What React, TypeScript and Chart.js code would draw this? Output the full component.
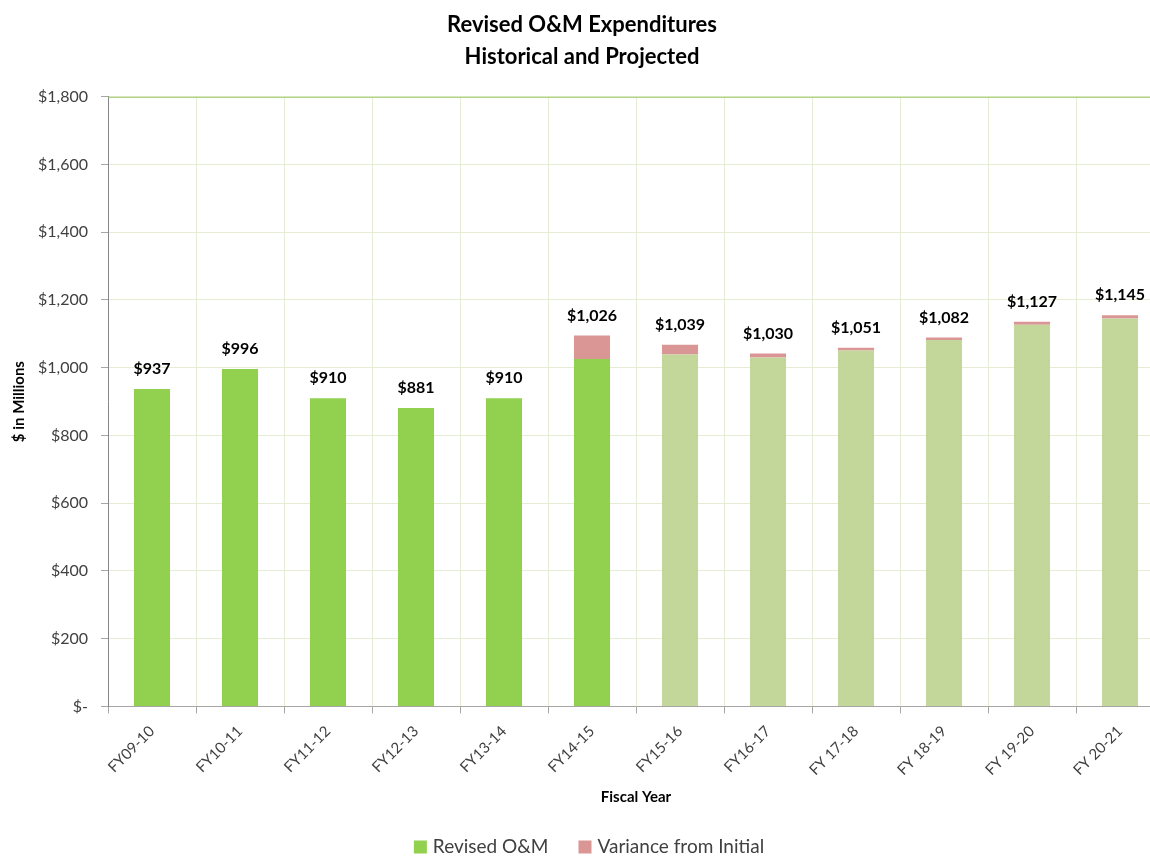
import React, { useEffect, useRef } from "react";
import { Chart, registerables } from "chart.js";

Chart.register(...registerables);

const categories = ["FY09-10", "FY10-11", "FY11-12", "FY12-13", "FY13-14", "FY14-15", "FY15-16", "FY16-17", "FY 17-18", "FY 18-19", "FY 19-20", "FY 20-21"];
const revisedOM = [937, 996, 910, 881, 910, 1026, 1039, 1030, 1051, 1082, 1127, 1145];
const varianceFromInitial = [0, 0, 0, 0, 0, 69, 29, 12, 8, 7, 9, 10];
const historicalCount = 6;
const yTicks = [0, 200, 400, 600, 800, 1000, 1200, 1400, 1600, 1800];
const legendItems = ["Revised O&M", "Variance from Initial"];

const GREEN_HIST = "#92D050";
const GREEN_PROJ = "#C4D79B";
const PINK = "#DA9694";
const legendColors = [GREEN_HIST, PINK];
const FONT = "Lato, 'Open Sans', sans-serif";

const fmt = (v: number) => (v === 0 ? "$-" : "$" + v.toLocaleString("en-US"));

const labelPlugin = {
  id: "stackLabels",
  afterDatasetsDraw(chart: any) {
    const ctx = chart.ctx;
    const top = chart.getDatasetMeta(1);
    ctx.save();
    ctx.font = `bold 16px ${FONT}`;
    ctx.fillStyle = "#000";
    ctx.textAlign = "center";
    ctx.textBaseline = "bottom";
    revisedOM.forEach((v, i) => {
      const el = top.data[i];
      ctx.fillText(fmt(v), el.x, el.y - 12);
    });
    ctx.restore();
  },
};

const topLinePlugin = {
  id: "topLine",
  afterDraw(chart: any) {
    const { ctx, chartArea } = chart;
    ctx.save();
    ctx.strokeStyle = "#9CCB6B";
    ctx.lineWidth = 1;
    ctx.beginPath();
    ctx.moveTo(chartArea.left, chartArea.top + 0.5);
    ctx.lineTo(chartArea.right, chartArea.top + 0.5);
    ctx.stroke();
    ctx.restore();
  },
};

const legendPlugin = {
  id: "customLegend",
  afterDraw(chart: any) {
    const ctx = chart.ctx;
    ctx.save();
    ctx.font = `19px ${FONT}`;
    ctx.textBaseline = "middle";
    ctx.textAlign = "left";
    const box = 13;
    const gapText = 6;
    const gapItem = 30;
    const widths = legendItems.map((t) => box + gapText + ctx.measureText(t).width);
    const total = widths.reduce((a, b) => a + b, 0) + gapItem * (legendItems.length - 1);
    const cy = chart.height - 9;
    let x = chart.width / 2 + 7 - total / 2;
    legendItems.forEach((t, i) => {
      ctx.fillStyle = legendColors[i];
      ctx.fillRect(x, cy - box / 2, box, box);
      ctx.fillStyle = "#404040";
      ctx.fillText(t, x + box + gapText, cy);
      x += widths[i] + gapItem;
    });
    ctx.restore();
  },
};

export default function App() {
  const ref = useRef<HTMLCanvasElement | null>(null);
  useEffect(() => {
    document.body.style.margin = "0";
    const chart = new Chart(ref.current!, {
      type: "bar",
      data: {
        labels: categories,
        datasets: [
          {
            label: legendItems[0],
            data: revisedOM,
            backgroundColor: revisedOM.map((_, i) => (i < historicalCount ? GREEN_HIST : GREEN_PROJ)),
            barPercentage: 0.41,
            categoryPercentage: 1,
            stack: "s",
          },
          {
            label: legendItems[1],
            data: varianceFromInitial,
            backgroundColor: PINK,
            barPercentage: 0.41,
            categoryPercentage: 1,
            stack: "s",
          },
        ],
      },
      options: {
        responsive: false,
        animation: false,
        maintainAspectRatio: false,
        layout: { padding: { left: 0, right: 0, top: 0, bottom: 25 } },
        plugins: {
          title: {
            display: true,
            text: ["Revised O&M Expenditures", "Historical and Projected"],
            font: { family: FONT, size: 22, weight: "bold", lineHeight: 1.45 },
            color: "#000",
            padding: { top: 9, bottom: 24 },
          },
          legend: { display: false },
          tooltip: { enabled: false },
        },
        scales: {
          x: {
            stacked: true,
            grid: { color: "#E6EDD5", offset: true, drawTicks: true, tickLength: 7, tickColor: "#A6A6A6" },
            border: { color: "#A6A6A6" },
            ticks: {
              maxRotation: 45,
              minRotation: 45,
              font: { family: FONT, size: 15 },
              color: "#404040",
              padding: 9,
            },
            title: {
              display: true,
              text: "Fiscal Year",
              font: { family: FONT, size: 15, weight: "bold" },
              color: "#000",
              padding: { top: 0, bottom: 25 },
            },
          },
          y: {
            stacked: true,
            min: 0,
            max: 1800,
            afterBuildTicks: (s: any) => {
              s.ticks = yTicks.map((v) => ({ value: v }));
            },
            afterFit: (s: any) => {
              s.width = 108;
            },
            grid: { color: "#E6EDD5", tickLength: 7, tickColor: "#A6A6A6" },
            border: { color: "#868686" },
            ticks: {
              callback: (v: any) => fmt(Number(v)),
              font: { family: FONT, size: 16 },
              color: "#404040",
              padding: 13,
            },
            title: {
              display: true,
              text: "$ in Millions",
              font: { family: FONT, size: 15, weight: "bold" },
              color: "#000",
              padding: { top: 10, bottom: 4 },
            },
          },
        },
      },
      plugins: [labelPlugin, topLinePlugin, legendPlugin],
    } as any);
    return () => chart.destroy();
  }, []);
  return (
    <div style={{ width: 1150, height: 856, overflow: "hidden", position: "relative", background: "#fff" }}>
      <canvas ref={ref} width={1164} height={856} style={{ display: "block", width: 1164, height: 856 }} />
    </div>
  );
}
